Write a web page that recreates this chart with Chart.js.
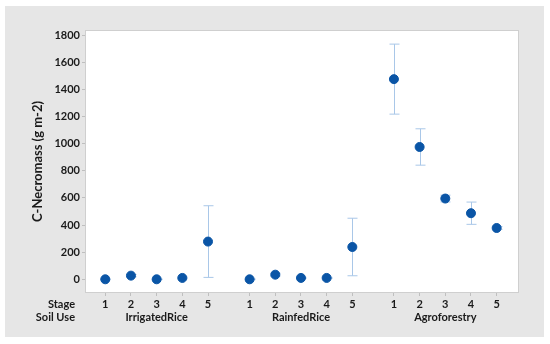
<!DOCTYPE html>
<html>
<head>
<meta charset="utf-8">
<script src="https://cdn.jsdelivr.net/npm/chart.js@4.4.1/dist/chart.umd.min.js"></script>
<style>
  html, body { margin: 0; padding: 0; background: #fff; }
</style>
</head>
<body>
<canvas id="necromass-chart" width="550" height="344"></canvas>
<script>
const stages = ['1', '2', '3', '4', '5'];
const soilUses = ['IrrigatedRice', 'RainfedRice', 'Agroforestry'];

const irrigatedRice = [0, 27, 0, 10, 278];
const irrigatedRiceErr = [3, 8, 2, 6, 264];
const rainfedRice = [0, 34, 10, 10, 238];
const rainfedRiceErr = [3, 10, 4, 4, 212];
const agroforestry = [1475, 975, 595, 487, 378];
const agroforestryErr = [258, 134, 25, 82, 10];

const yTickValues = [0, 200, 400, 600, 800, 1000, 1200, 1400, 1600, 1800];

const groupStride = 5.62;
const groupMeans = [irrigatedRice, rainfedRice, agroforestry];
const groupErrs = [irrigatedRiceErr, rainfedRiceErr, agroforestryErr];

const points = [];
const errors = [];
const xTicks = [];
soilUses.forEach((use, g) => {
    stages.forEach((stage, i) => {
        const x = g * groupStride + i + 1;
        points.push({ x: x, y: groupMeans[g][i] });
        errors.push(groupErrs[g][i]);
        xTicks.push({ value: x, label: i === 2 ? [stage, use] : [stage] });
    });
});

const tickFont = { family: 'Lato', size: 11, weight: 'bold' };

const frame = {
    id: 'frame',
    beforeDraw(chart) {
        const { ctx, chartArea: a } = chart;
        ctx.save();
        ctx.fillStyle = '#ffffff';
        ctx.fillRect(0, 0, chart.width, chart.height);
        ctx.fillStyle = '#e6e6e6';
        ctx.fillRect(5, 6, 539, 331);
        ctx.fillStyle = '#ffffff';
        ctx.fillRect(a.left, a.top, a.right - a.left, a.bottom - a.top);
        ctx.strokeStyle = '#cfcfcf';
        ctx.lineWidth = 1;
        ctx.strokeRect(a.left + 0.5, a.top + 0.5, a.right - a.left - 1, a.bottom - a.top - 1);
        ctx.restore();
    },
    afterDraw(chart) {
        const { ctx } = chart;
        const xs = chart.scales.x;
        ctx.save();
        ctx.font = 'bold 11px Lato';
        ctx.fillStyle = '#1a1a1a';
        ctx.textAlign = 'right';
        ctx.textBaseline = 'middle';
        ctx.fillText('Stage', 75, xs.top + 11.5);
        ctx.fillText('Soil Use', 75, xs.top + 24.5);
        ctx.restore();
    }
};

const errorBars = {
    id: 'errorBars',
    beforeDatasetsDraw(chart) {
        const { ctx } = chart;
        const xs = chart.scales.x, ys = chart.scales.y;
        ctx.save();
        ctx.strokeStyle = '#a9c7e8';
        ctx.lineWidth = 1;
        points.forEach((p, i) => {
            const px = Math.round(xs.getPixelForValue(p.x)) + 0.5;
            const top = ys.getPixelForValue(p.y + errors[i]);
            const bot = ys.getPixelForValue(p.y - errors[i]);
            ctx.beginPath();
            ctx.moveTo(px, top); ctx.lineTo(px, bot);
            ctx.moveTo(px - 5, top); ctx.lineTo(px + 5, top);
            ctx.moveTo(px - 5, bot); ctx.lineTo(px + 5, bot);
            ctx.stroke();
        });
        ctx.restore();
    }
};

new Chart(document.getElementById('necromass-chart'), {
    type: 'scatter',
    data: {
        datasets: [{
            label: 'C-Necromass',
            data: points,
            backgroundColor: '#0a55a6',
            borderColor: '#0a55a6',
            pointRadius: 4.5,
            pointHoverRadius: 4.5
        }]
    },
    options: {
        responsive: false,
        animation: false,
        layout: { padding: { left: 0, top: 30, right: 31, bottom: 0 } },
        plugins: {
            legend: { display: false },
            tooltip: { enabled: false }
        },
        scales: {
            x: {
                type: 'linear',
                min: 0.21,
                max: 17.11,
                afterBuildTicks: (scale) => { scale.ticks = xTicks.map(t => ({ value: t.value })); },
                afterFit: (scale) => { scale.height = 51; },
                ticks: {
                    autoSkip: false,
                    maxRotation: 0,
                    padding: 2,
                    color: '#1a1a1a',
                    font: tickFont,
                    callback: (value) => {
                        const t = xTicks.find(k => Math.abs(k.value - value) < 1e-6);
                        return t ? t.label : '';
                    }
                },
                grid: { drawOnChartArea: false, tickLength: 3, color: '#bfbfbf' },
                border: { display: false }
            },
            y: {
                min: -101,
                max: 1837,
                afterBuildTicks: (scale) => { scale.ticks = yTickValues.map(v => ({ value: v })); },
                afterFit: (scale) => { scale.width = 85; },
                ticks: {
                    padding: 2,
                    color: '#1a1a1a',
                    font: tickFont,
                    callback: (value) => String(value)
                },
                grid: { drawOnChartArea: false, tickLength: 3, color: '#bfbfbf' },
                border: { display: false },
                title: {
                    display: true,
                    text: 'C-Necromass (g m-2)',
                    color: '#1a1a1a',
                    font: { family: 'Lato', size: 13, weight: 'bold' },
                    padding: { top: 30, bottom: 0 }
                }
            }
        }
    },
    plugins: [frame, errorBars]
});
</script>
</body>
</html>
